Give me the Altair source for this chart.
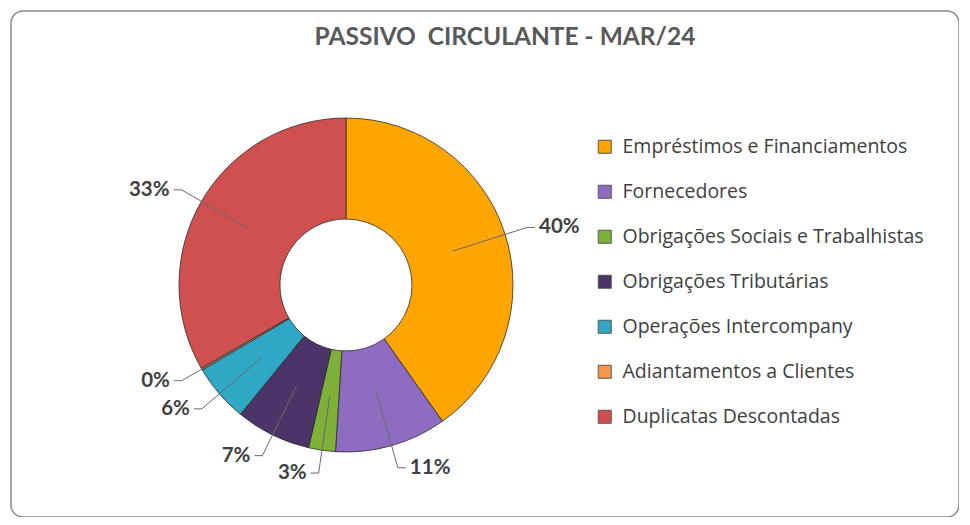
import altair as alt
import pandas as pd

# ---- data ----
categorias = [
    "Empréstimos e Financiamentos",
    "Fornecedores",
    "Obrigações Sociais e Trabalhistas",
    "Obrigações Tributárias",
    "Operações Intercompany",
    "Adiantamentos a Clientes",
    "Duplicatas Descontadas",
]
valores = [40.2, 10.8, 2.6, 7.3, 5.6, 0.2, 33.3]
cores = ["#FFA500", "#8E6CC2", "#7FB03A", "#4A3468", "#2EA8C4", "#F79646", "#D05050"]
titulo = "PASSIVO \u00a0CIRCULANTE - MAR/24"

df = pd.DataFrame({
    "categoria": categorias,
    "valor": valores,
    "ordem": list(range(len(categorias))),
})

# ---- layout (pixels) ----
CX, CY = 335, 274
R_IN, R_OUT = 66, 167
R_L0, R_L1 = 112, 190
ELBOW, GAP = 8, 4
FONT = "Lato"

base = (
    alt.Chart(df)
    .transform_joinaggregate(total="sum(valor)")
    .transform_window(acum="sum(valor)", sort=[alt.SortField("ordem")])
    .transform_calculate(
        meio="2*PI*(datum.acum - datum.valor/2)/datum.total",
        pct="format(datum.valor/datum.total, '.0%')",
    )
    .transform_calculate(
        lado="sin(datum.meio) >= 0 ? 1 : -1",
        lx0=f"{CX} + {R_L0}*sin(datum.meio)",
        ly0=f"{CY} - {R_L0}*cos(datum.meio)",
        lx1=f"{CX} + {R_L1}*sin(datum.meio)",
        ly1=f"{CY} - {R_L1}*cos(datum.meio)",
    )
    .transform_calculate(
        lx2=f"datum.lx1 + datum.lado*{ELBOW}",
        tx=f"datum.lx1 + datum.lado*{ELBOW + GAP}",
    )
)

cor = alt.Color(
    "categoria:N",
    sort=categorias,
    scale=alt.Scale(domain=categorias, range=cores),
    title=None,
    legend=alt.Legend(
        orient="none",
        legendX=584,
        legendY=126,
        symbolType="square",
        symbolSize=169,
        symbolStrokeColor="#555555",
        symbolStrokeWidth=1,
        labelFont="Open Sans",
        labelFontSize=19.5,
        labelColor="#404040",
        labelOffset=8,
        rowPadding=24,
        padding=0,
        labelLimit=400,
    ),
)

arcos = base.mark_arc(
    innerRadius=R_IN, outerRadius=R_OUT, stroke="#2b2b2b", strokeWidth=0.8
).encode(
    theta=alt.Theta("valor:Q", stack=True),
    order=alt.Order("ordem:Q"),
    color=cor,
    x=alt.value(CX),
    y=alt.value(CY),
)

linhas = base.mark_rule(color="#6a6a6a", strokeWidth=1).encode(
    x=alt.X("lx0:Q", scale=None, axis=None),
    y=alt.Y("ly0:Q", scale=None, axis=None),
    x2="lx1:Q",
    y2="ly1:Q",
)

cotovelos = base.mark_rule(color="#6a6a6a", strokeWidth=1).encode(
    x=alt.X("lx1:Q", scale=None, axis=None),
    y=alt.Y("ly1:Q", scale=None, axis=None),
    x2="lx2:Q",
    y2="ly1:Q",
)

estilo_txt = dict(font=FONT, fontSize=20.5, fontWeight="bold", color="#404040", baseline="middle")
enc_txt = dict(
    x=alt.X("tx:Q", scale=None, axis=None),
    y=alt.Y("ly1:Q", scale=None, axis=None),
    text="pct:N",
)
rot_dir = base.transform_filter("datum.lado > 0").mark_text(align="left", **estilo_txt).encode(**enc_txt)
rot_esq = base.transform_filter("datum.lado < 0").mark_text(align="right", **estilo_txt).encode(**enc_txt)

chart = (
    alt.layer(arcos, linhas, cotovelos, rot_dir, rot_esq)
    .properties(
        width=948,
        height=506,
        padding={"left": 3, "top": 3, "right": 0, "bottom": 0},
        autosize="none",
        background="white",
        title=alt.TitleParams(
            titulo,
            font=FONT,
            fontSize=24.5,
            fontWeight="bold",
            color="#595959",
            anchor="middle",
            frame="group",
            offset=0,
            dy=39,
            dx=20,
        ),
    )
    .configure_view(stroke="#8a8a8a", strokeWidth=1.5, cornerRadius=12)
)

chart.save("out.html", embed_options={"renderer": "svg", "actions": False})
